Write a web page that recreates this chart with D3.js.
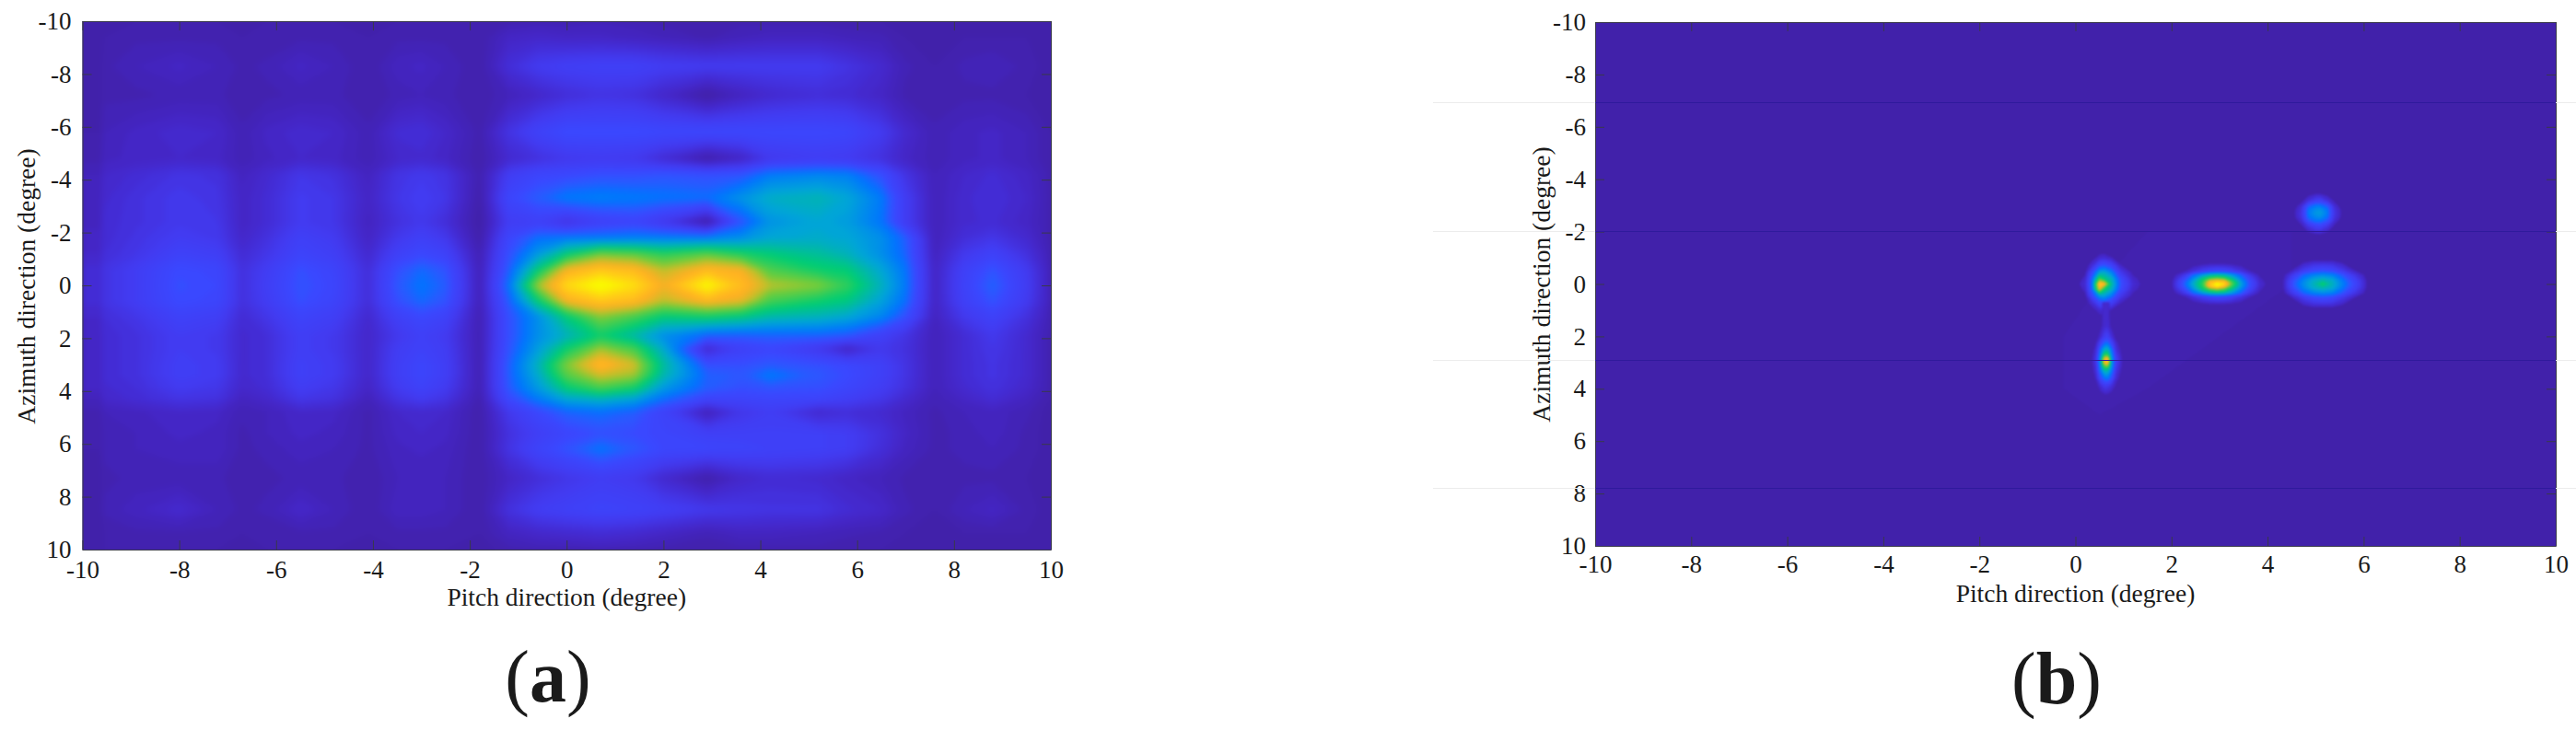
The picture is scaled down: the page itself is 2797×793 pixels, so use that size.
<html>
<head>
  <meta charset="utf-8">
  <script src="https://d3js.org/d3.v7.min.js"></script>
  <style>
    body { margin: 0; background: #fff; }
    text { font-family: "Liberation Serif", serif; fill: #1a1a1a; }
  </style>
</head>
<body>
  <div id="chart"></div>
  <script>

    // Tick labels, same on every axis of both panels
    var tickValues = [-10, -8, -6, -4, -2, 0, 2, 4, 6, 8, 10];

    // Colour map: value (0-100) to colour
    var colorStops = [0, 6, 12, 20, 28, 32, 36, 46, 58, 70, 76, 82, 90, 96, 100];
    var colorList = ["#3a1c96", "#4121aa", "#4426c8", "#423af0", "#3a48ff", "#285aff", "#0073ff",
      "#00a5d7", "#00cd73", "#6ecd3c", "#c8be28", "#ffaf23", "#ffd214", "#faf500", "#faff00"];

    // Panel (a): intensity on an uneven grid
    var aPitch = [-10, -9.65, -9.55, -8.9, -8, -7.2, -6.7, -6.2, -5.5, -4.8, -4.1, -3.5, -3, -2.5, -1.8, -1.2, -0.6,
      0, 0.7, 1.4, 2, 2.9, 3.6, 4.2, 5.2, 5.8, 6.5, 7, 7.6, 8.2, 8.8, 9.5, 10];
    var aAzimuth = [-10, -9.4, -8.3, -7.2, -5.8, -4.8, -4.2, -3.3, -2.4, -1.8, -1.2, -0.6, 0, 0.6, 1.2, 1.9, 2.4, 3,
      3.4, 3.9, 4.3, 4.8, 5.6, 6.2, 7.3, 8.5, 9.4, 10];
    var aValues = [
      [6,6,6,7,7,7,6,7,7,7,6,7,7,7,7,8,9,9,10,9,8,7,8,8,8,7,7,6,6,6,6,6,6],
      [6,6,7,8,8,8,7,7,8,8,7,8,8,8,7,12,13,12,12,11,10,8,10,11,11,10,9,7,6,7,7,7,6],
      [6,6,8,10,12,10,8,9,12,10,7,11,12,10,7,16,21,23,24,24,22,21,21,21,21,18,14,9,7,9,10,8,6],
      [6,6,8,8,9,9,7,8,9,9,7,9,10,9,7,10,13,16,18,17,13,6,11,14,16,15,12,8,7,8,8,7,6],
      [7,7,10,12,14,13,9,12,14,13,9,15,16,13,8,18,25,29,29,29,28,28,28,28,28,27,21,14,9,11,12,10,7],
      [8,8,11,12,13,12,9,11,13,12,9,13,14,12,7,14,17,20,21,20,15,7,12,20,22,21,17,12,9,11,12,10,7],
      [10,10,13,15,18,17,11,14,19,17,11,18,20,18,8,22,27,28,30,30,31,30,31,38,40,39,30,18,10,13,15,12,8],
      [11,11,14,17,20,18,12,15,21,19,12,19,22,19,7,27,33,38,39,38,37,36,43,49,51,47,38,22,10,14,16,13,8],
      [11,11,15,17,20,19,12,15,21,19,11,17,20,16,6,22,24,18,24,26,20,7,31,43,47,45,37,22,10,14,15,12,8],
      [12,12,15,18,22,20,13,17,24,21,12,20,24,20,7,27,36,38,38,39,39,39,42,47,48,47,42,33,10,16,19,14,8],
      [13,13,16,19,25,23,15,19,26,23,14,24,28,25,9,30,44,58,70,68,63,68,62,58,54,50,42,34,11,20,25,17,9],
      [15,15,18,22,29,27,17,22,30,26,16,30,35,31,10,33,58,82,88,85,76,85,82,67,60,58,47,37,12,24,31,21,10],
      [15,15,18,22,30,28,17,23,31,27,16,32,37,33,10,37,74,92,100,93,82,98,86,76,72,64,50,38,12,25,34,22,10],
      [15,15,18,22,29,27,17,22,30,26,16,30,35,31,10,33,58,82,88,85,76,84,80,66,60,57,46,36,12,24,31,21,10],
      [13,13,16,19,25,23,15,19,26,23,14,24,28,25,9,30,42,58,72,66,58,60,57,52,50,47,40,30,11,20,25,17,9],
      [12,12,15,17,22,20,14,16,23,20,13,20,24,21,9,30,42,50,60,52,42,34,33,34,34,32,24,18,10,15,20,14,8],
      [12,12,15,17,22,20,14,16,23,20,13,22,25,22,9,31,45,60,74,66,48,14,24,27,20,12,20,17,10,15,19,14,8],
      [12,12,15,17,23,21,14,16,24,21,13,23,27,23,9,33,50,72,86,78,54,30,30,32,30,28,24,18,10,15,18,14,8],
      [12,12,15,17,23,21,14,16,24,21,13,23,27,23,9,33,48,68,78,74,52,34,32,38,32,29,24,18,10,15,18,14,8],
      [12,12,14,16,21,19,13,15,22,19,12,21,25,21,9,32,44,58,66,60,44,33,30,31,30,27,22,17,10,14,17,13,8],
      [10,10,13,15,18,17,11,13,19,17,10,18,21,18,8,28,38,47,50,46,36,26,26,27,26,23,19,14,9,12,15,11,7],
      [8,8,10,11,13,12,9,10,13,12,8,13,14,13,7,20,28,34,36,33,25,10,19,22,14,16,14,11,8,10,11,9,6],
      [7,7,9,10,12,11,8,10,12,11,8,12,13,12,7,17,23,27,30,29,27,24,24,24,24,22,17,12,8,9,11,8,6],
      [7,7,9,10,11,11,8,9,11,10,8,11,12,11,7,18,26,31,37,32,28,27,26,25,24,22,16,11,8,9,10,8,6],
      [6,6,8,9,9,9,7,8,9,9,7,10,10,10,7,12,16,19,22,20,14,7,13,15,14,12,10,8,7,8,8,7,6],
      [6,6,9,11,14,10,8,9,13,10,7,11,11,10,7,17,22,24,26,25,23,20,19,18,18,15,13,9,7,10,12,8,6],
      [6,6,7,8,8,8,7,7,8,8,7,8,8,8,7,11,13,14,15,14,12,9,11,11,10,9,8,7,6,7,7,7,6],
      [6,6,7,7,7,7,6,7,7,7,6,7,7,7,6,8,9,9,10,9,8,7,8,8,8,7,7,6,6,6,6,6,6]
    ];

    // Panel (b): flat background plus small tables around each peak
    var bBackground = 6;
    var bHaloPitch = [-1, 0.5, 1.5, 3, 4.5, 6, 7];
    var bHaloAzimuth = [-4, -2, 0, 2, 4, 6, 9];
    var bHaloValues = [
      [6,6,6,6,6,6,6],
      [6,6,7,7,7,6,6],
      [6,7,8,8,7,6,6],
      [6,8,8,7,6,6,6],
      [6,8,7,6,6,6,6],
      [6,6,6,6,6,6,6],
      [6,6,6,6,6,6,6]
    ];
    var bPeakAPitch = [0, 0.2, 0.35, 0.5, 0.6, 0.75, 0.95, 1.2, 1.5];
    var bPeakAAzimuth = [-1.3, -1, -0.7, -0.45, -0.2, 0, 0.2, 0.45, 0.7, 1, 1.3];
    var bPeakAValues = [
      [6,6,7,8,8,7,6,6,6],
      [6,7,9,14,15,12,8,7,6],
      [6,8,16,30,32,26,12,8,6],
      [7,10,28,46,48,40,20,10,7],
      [8,13,36,66,58,50,28,13,8],
      [9,15,38,90,85,54,30,15,8],
      [8,13,36,80,60,50,28,13,8],
      [7,10,28,44,46,38,20,10,7],
      [6,8,16,28,30,24,12,8,6],
      [6,7,9,14,15,11,8,7,6],
      [6,6,7,9,9,7,6,6,6]
    ];
    var bPeakBPitch = [2, 2.25, 2.45, 2.65, 2.8, 2.95, 3.1, 3.25, 3.45, 3.65, 3.85, 4.1];
    var bPeakBAzimuth = [-0.8, -0.5, -0.35, -0.2, -0.1, 0, 0.1, 0.2, 0.35, 0.5, 0.8];
    var bPeakBValues = [
      [6,7,8,9,10,10,10,9,8,8,7,6],
      [7,10,16,22,25,27,26,23,17,11,8,7],
      [8,18,34,44,50,52,50,44,33,18,10,7],
      [9,26,42,58,68,72,68,56,40,24,12,8],
      [10,30,46,62,84,88,86,66,44,27,13,8],
      [10,32,48,64,88,100,92,70,46,28,14,8],
      [10,30,46,62,86,94,84,64,44,27,13,8],
      [9,26,42,58,68,74,68,56,40,24,12,8],
      [8,18,34,44,50,52,50,44,33,18,10,7],
      [7,10,16,22,25,27,26,23,17,11,8,7],
      [6,7,8,9,10,10,10,9,8,8,7,6]
    ];
    var bPeakCPitch = [4.3, 4.55, 4.75, 4.95, 5.15, 5.35, 5.55, 5.8, 6.1];
    var bPeakCAzimuth = [-0.9, -0.55, -0.35, -0.15, 0, 0.15, 0.35, 0.55, 0.9];
    var bPeakCValues = [
      [6,7,9,11,11,11,9,7,6],
      [7,12,20,26,28,26,19,11,7],
      [8,22,34,39,41,39,32,19,8],
      [9,30,40,48,52,48,38,26,9],
      [9,32,42,50,60,50,40,28,9],
      [9,30,40,48,52,48,38,26,9],
      [8,22,34,39,41,39,32,19,8],
      [7,12,20,26,28,26,19,11,7],
      [6,7,9,11,11,11,9,7,6]
    ];
    var bPeakDPitch = [4.5, 4.7, 4.85, 5, 5.1, 5.25, 5.4, 5.6];
    var bPeakDAzimuth = [-3.5, -3.2, -3, -2.85, -2.7, -2.55, -2.4, -2.2, -1.9];
    var bPeakDValues = [
      [6,7,8,9,9,8,7,6],
      [6,9,16,22,23,16,10,6],
      [7,14,31,37,37,31,14,7],
      [8,17,37,42,43,37,17,8],
      [8,18,38,44,45,38,18,8],
      [8,17,36,41,42,36,17,8],
      [7,14,30,36,36,30,14,7],
      [6,10,18,24,25,18,10,6],
      [6,7,9,11,11,9,7,6]
    ];
    var bPeakEPitch = [0.3, 0.42, 0.52, 0.6, 0.67, 0.75, 0.85, 1];
    var bPeakEAzimuth = [0.7, 1.2, 1.6, 2, 2.25, 2.5, 2.7, 2.85, 3, 3.15, 3.3, 3.6, 3.9, 4.3];
    var bPeakEValues = [
      [6,7,9,14,14,9,7,6],
      [6,7,9,14,14,9,7,6],
      [6,7,10,14,15,10,7,6],
      [6,8,14,22,24,16,9,6],
      [6,11,24,34,36,26,13,7],
      [7,14,36,48,50,38,16,8],
      [7,16,40,62,64,42,20,8],
      [7,18,44,80,86,46,22,9],
      [7,18,44,82,88,46,22,9],
      [7,16,42,66,70,44,20,9],
      [7,15,38,52,52,40,18,8],
      [6,12,28,36,38,30,14,7],
      [6,8,15,20,20,16,10,7],
      [6,7,8,9,9,8,7,6]
    ];

    // Thin scan seams that cross panel (b), in azimuth degrees
    var bSeams = [-6.94, -2.02, 2.9, 7.82];

    var color = d3.scaleLinear().domain(colorStops).range(colorList);
    var levels = d3.range(7, 100.5, 1.5);
    var peakLevels = levels.filter(l => l > 10.5);

    var svg = d3.select("#chart").append("svg")
      .attr("width", 2797)
      .attr("height", 793)
      .style("display", "block");
    var defs = svg.append("defs");

    // Draw one table as stacked filled contours, mapped through the scales
    function drawTable(g, x, y, pitch, azimuth, rows, steps) {
      var nx = pitch.length, ny = azimuth.length;
      var ix = d3.scaleLinear().domain(d3.range(nx)).range(pitch).clamp(true);
      var iy = d3.scaleLinear().domain(d3.range(ny)).range(azimuth).clamp(true);
      var path = d3.geoPath(d3.geoTransform({
        point: function (px, py) {
          this.stream.point(x(ix(px - 0.5)), y(iy(py - 0.5)));
        }
      }));
      var shapes = d3.contours().size([nx, ny]).thresholds(steps)(rows.flat());
      g.append("g").selectAll("path")
        .data(shapes)
        .join("path")
          .attr("d", path)
          .attr("fill", d => color(d.value));
    }

    function drawPanel(box, tables, blur, id, labels) {
      var x = d3.scaleLinear().domain([-10, 10]).range([box.left, box.right]);
      var y = d3.scaleLinear().domain([-10, 10]).range([box.top, box.bottom]);

      defs.append("clipPath").attr("id", "clip-" + id)
        .append("rect")
          .attr("x", box.left).attr("y", box.top)
          .attr("width", box.right - box.left).attr("height", box.bottom - box.top);
      var f = defs.append("filter").attr("id", "blur-" + id)
        .attr("filterUnits", "userSpaceOnUse")
        .attr("x", box.left - 30).attr("y", box.top - 30)
        .attr("width", box.right - box.left + 60).attr("height", box.bottom - box.top + 60)
        .attr("color-interpolation-filters", "sRGB");
      f.append("feGaussianBlur").attr("stdDeviation", blur);

      var plot = svg.append("g").attr("clip-path", "url(#clip-" + id + ")")
        .append("g").attr("filter", "url(#blur-" + id + ")");
      plot.append("rect")
        .attr("x", box.left - 30).attr("y", box.top - 30)
        .attr("width", box.right - box.left + 60).attr("height", box.bottom - box.top + 60)
        .attr("fill", color(bBackground));
      tables.forEach(t => drawTable(plot, x, y, t[0], t[1], t[2], t[3]));

      // MATLAB style box: ticks point inward on all four sides
      var axes = [
        [d3.axisBottom(x), `translate(0,${box.bottom})`, true],
        [d3.axisTop(x), `translate(0,${box.top})`, false],
        [d3.axisLeft(y), `translate(${box.left},0)`, true],
        [d3.axisRight(y), `translate(${box.right},0)`, false]
      ];
      axes.forEach(function (a) {
        var g = svg.append("g")
          .attr("transform", a[1])
          .call(a[0].tickValues(tickValues).tickSizeInner(-10).tickSizeOuter(0)
            .tickPadding(labels.tickPad)
            .tickFormat(a[2] ? (d => String(d)) : ""));
        g.selectAll("path,line").attr("stroke", "#3a3a4a").attr("stroke-width", 1);
        g.selectAll("text").style("font-size", "27px").attr("font-family", null);
      });

      svg.append("text")
        .attr("x", (box.left + box.right) / 2).attr("y", labels.xBase)
        .attr("text-anchor", "middle").style("font-size", "27.5px")
        .text("Pitch direction (degree)");
      svg.append("text")
        .attr("transform", `translate(${labels.yBase},${labels.yMid}) rotate(-90)`)
        .attr("text-anchor", "middle").style("font-size", "27.5px")
        .text("Azimuth direction (degree)");

      var tag = svg.append("text")
        .attr("x", labels.tagX).attr("y", labels.tagBase)
        .attr("text-anchor", "middle").style("font-size", "80px");
      tag.append("tspan").text("(");
      tag.append("tspan").style("font-weight", "bold").text(labels.tag);
      tag.append("tspan").text(")");

      return y;
    }

    var aBox = {left: 89.5, right: 1141, top: 23, bottom: 597};
    var bBox = {left: 1732, right: 2775, top: 24, bottom: 593};

    drawPanel(aBox, [[aPitch, aAzimuth, aValues, levels]], 3, "a",
      {tickPad: 12, xBase: 658, yBase: 38, yMid: 311, tagX: 595, tagBase: 762, tag: "a"});

    var bTables = [
      [bHaloPitch, bHaloAzimuth, bHaloValues, levels],
      [bPeakAPitch, bPeakAAzimuth, bPeakAValues, peakLevels],
      [bPeakBPitch, bPeakBAzimuth, bPeakBValues, peakLevels],
      [bPeakCPitch, bPeakCAzimuth, bPeakCValues, peakLevels],
      [bPeakDPitch, bPeakDAzimuth, bPeakDValues, peakLevels],
      [bPeakEPitch, bPeakEAzimuth, bPeakEValues, peakLevels]
    ];
    var by = drawPanel(bBox, bTables, 1, "b",
      {tickPad: 10, xBase: 654, yBase: 1683, yMid: 309, tagX: 2233, tagBase: 764, tag: "b"});

    // Seams are faint on white and dark across the plot
    var seamY = d => Math.floor(by(d)) + 0.5;
    var seams = svg.append("g").selectAll("g")
      .data(bSeams)
      .join("g");
    seams.append("line")
        .attr("x1", 1556).attr("x2", bBox.left)
        .attr("y1", seamY).attr("y2", seamY)
        .attr("stroke", "#ececec");
    seams.append("line")
        .attr("x1", bBox.right).attr("x2", 2797)
        .attr("y1", seamY).attr("y2", seamY)
        .attr("stroke", "#ececec");
    seams.append("line")
        .attr("x1", bBox.left).attr("x2", bBox.right)
        .attr("y1", seamY).attr("y2", seamY)
        .attr("stroke", "#2f1a9c");

  </script>
</body>
</html>
